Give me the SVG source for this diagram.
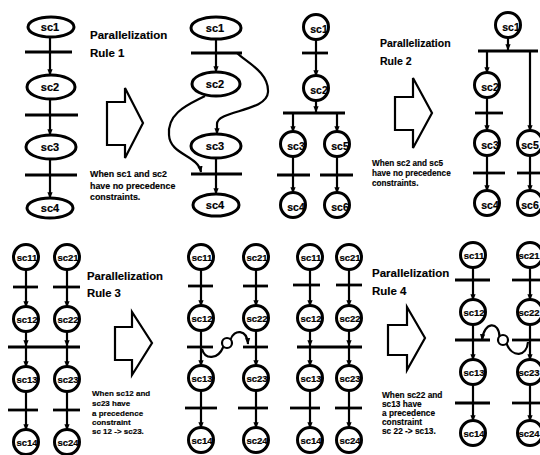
<svg xmlns="http://www.w3.org/2000/svg" width="540" height="455" viewBox="0 0 540 455">
  <style>
    .n { fill: #fff; stroke: #000; stroke-width: 3; }
    .lb { font-family: "Liberation Sans", Arial, sans-serif; font-weight: bold; text-anchor: middle; fill: #000; stroke: #000; stroke-width: 0.2; }
    .e { font-size: 11px; }
    .c { font-size: 9.5px; }
    .c2 { font-size: 10.5px; }
    .bar { stroke: #000; stroke-width: 2.8; }
    .ln { stroke: #000; stroke-width: 2.2; fill: none; marker-end: url(#ah); }
    .ln0 { stroke: #000; stroke-width: 2.2; fill: none; }
    .blk { fill: #fff; stroke: #000; stroke-width: 2.2; stroke-linejoin: miter; }
    .tt { font-family: "Liberation Sans", Arial, sans-serif; font-weight: bold; fill: #000; stroke: #000; stroke-width: 0.15; }
  </style>
  <defs>
    <marker id="ah" viewBox="0 0 10 10" refX="9" refY="5" markerWidth="6.5" markerHeight="6.5" markerUnits="userSpaceOnUse" orient="auto">
      <path d="M0,1 L10,5 L0,9 z" fill="#000"/>
    </marker>
  </defs>

  <!-- transition bars -->
  <g id="bars">
    <!-- rule 1, before -->
    <line class="bar" x1="25" y1="52" x2="72" y2="52"/>
    <line class="bar" x1="25" y1="115" x2="78" y2="115"/>
    <line class="bar" x1="25" y1="175" x2="77" y2="175"/>
    <!-- rule 1, after -->
    <line class="bar" x1="191" y1="53" x2="242" y2="53"/>
    <line class="bar" x1="191" y1="174" x2="242" y2="174"/>
    <!-- rule 2, before -->
    <line class="bar" x1="302" y1="53" x2="328" y2="53"/>
    <line class="bar" x1="283" y1="113" x2="345" y2="113"/>
    <line class="bar" x1="277" y1="175" x2="310" y2="175"/>
    <line class="bar" x1="320" y1="175" x2="353" y2="175"/>
    <!-- rule 2, after -->
    <line class="bar" x1="478" y1="51" x2="538" y2="51"/>
    <line class="bar" x1="475" y1="113" x2="503" y2="113"/>
    <line class="bar" x1="473" y1="173" x2="505" y2="173"/>
    <line class="bar" x1="517" y1="173" x2="540" y2="173"/>
    <!-- rule 3, before -->
    <line class="bar" x1="13" y1="287" x2="38" y2="287"/>
    <line class="bar" x1="53" y1="287" x2="80" y2="287"/>
    <line class="bar" x1="8" y1="347" x2="80" y2="347"/>
    <line class="bar" x1="8" y1="410" x2="38" y2="410"/>
    <line class="bar" x1="53" y1="410" x2="80" y2="410"/>
    <!-- rule 3, after -->
    <line class="bar" x1="188" y1="286" x2="213" y2="286"/>
    <line class="bar" x1="243" y1="286" x2="268" y2="286"/>
    <line class="bar" x1="187" y1="347" x2="213" y2="347"/>
    <line class="bar" x1="243" y1="347" x2="268" y2="347"/>
    <line class="bar" x1="185" y1="408" x2="217" y2="408"/>
    <line class="bar" x1="238" y1="408" x2="268" y2="408"/>
    <!-- rule 4, before -->
    <line class="bar" x1="293" y1="285" x2="320" y2="285"/>
    <line class="bar" x1="336" y1="285" x2="362" y2="285"/>
    <line class="bar" x1="297" y1="347" x2="362" y2="347"/>
    <line class="bar" x1="290" y1="408" x2="320" y2="408"/>
    <line class="bar" x1="335" y1="408" x2="362" y2="408"/>
    <!-- rule 4, after -->
    <line class="bar" x1="455" y1="280" x2="490" y2="280"/>
    <line class="bar" x1="512" y1="280" x2="540" y2="280"/>
    <line class="bar" x1="455" y1="340" x2="490" y2="340"/>
    <line class="bar" x1="512" y1="340" x2="540" y2="340"/>
    <line class="bar" x1="455" y1="403" x2="490" y2="403"/>
    <line class="bar" x1="512" y1="403" x2="540" y2="403"/>
  </g>

  <!-- connectors -->
  <g id="connectors">
    <!-- rule 1, before -->
    <line class="ln" x1="50" y1="37" x2="50" y2="75"/>
    <line class="ln" x1="50" y1="99" x2="50" y2="135"/>
    <line class="ln" x1="50" y1="159" x2="50" y2="198"/>
    <!-- rule 1, after -->
    <line class="ln" x1="216" y1="39" x2="216" y2="72"/>
    <path class="ln" d="M237,53 C246,62 269,72 268,92 C267,112 217,110 217,124 L217,134"/>
    <path class="ln" d="M205,96 C190,104 167,112 169,135 C170,155 198,155 201,172"/>
    <line class="ln" x1="216" y1="158" x2="216" y2="194"/>
    <!-- rule 2, before -->
    <line class="ln" x1="316" y1="39" x2="316" y2="76"/>
    <line class="ln" x1="316" y1="100" x2="316" y2="112"/>
    <line class="ln" x1="293" y1="114" x2="293" y2="132"/>
    <line class="ln" x1="337" y1="114" x2="337" y2="132"/>
    <line class="ln" x1="293" y1="156" x2="293" y2="193"/>
    <line class="ln" x1="337" y1="156" x2="337" y2="193"/>
    <!-- rule 2, after -->
    <line class="ln" x1="508" y1="37" x2="508" y2="50"/>
    <line class="ln" x1="487" y1="52" x2="487" y2="73"/>
    <line class="ln" x1="487" y1="97" x2="487" y2="131"/>
    <line class="ln" x1="487" y1="155" x2="487" y2="191"/>
    <line class="ln" x1="530" y1="52" x2="530" y2="131"/>
    <line class="ln" x1="530" y1="155" x2="530" y2="191"/>
    <!-- rule 3, before -->
    <line class="ln" x1="26" y1="269" x2="26" y2="307"/>
    <line class="ln" x1="67" y1="269" x2="67" y2="307"/>
    <line class="ln" x1="26" y1="331" x2="26" y2="346"/>
    <line class="ln" x1="67" y1="331" x2="67" y2="346"/>
    <line class="ln" x1="26" y1="348" x2="26" y2="367"/>
    <line class="ln" x1="67" y1="348" x2="67" y2="367"/>
    <line class="ln" x1="26" y1="391" x2="26" y2="430"/>
    <line class="ln" x1="67" y1="391" x2="67" y2="430"/>
    <!-- rule 3, after -->
    <line class="ln" x1="201" y1="269" x2="201" y2="306"/>
    <line class="ln" x1="256" y1="269" x2="256" y2="306"/>
    <line class="ln" x1="201" y1="330" x2="201" y2="366"/>
    <line class="ln" x1="256" y1="330" x2="256" y2="366"/>
    <line class="ln" x1="201" y1="390" x2="201" y2="428"/>
    <line class="ln" x1="256" y1="390" x2="256" y2="428"/>
    <path class="ln0" d="M202,349 C205,360 218,360 223.5,346.5"/>
    <circle class="ln0" cx="227" cy="343" r="5"/>
    <path class="ln" d="M230.5,339.5 C234,329 247,329 248,344"/>
    <!-- rule 4, before -->
    <line class="ln" x1="310" y1="269" x2="310" y2="306"/>
    <line class="ln" x1="349" y1="269" x2="349" y2="306"/>
    <line class="ln" x1="310" y1="330" x2="310" y2="346"/>
    <line class="ln" x1="349" y1="330" x2="349" y2="346"/>
    <line class="ln" x1="310" y1="348" x2="310" y2="366"/>
    <line class="ln" x1="349" y1="348" x2="349" y2="366"/>
    <line class="ln" x1="310" y1="390" x2="310" y2="428"/>
    <line class="ln" x1="349" y1="390" x2="349" y2="428"/>
    <!-- rule 4, after -->
    <line class="ln" x1="473" y1="267" x2="473" y2="300"/>
    <line class="ln" x1="530" y1="267" x2="530" y2="300"/>
    <line class="ln" x1="473" y1="324" x2="473" y2="360"/>
    <line class="ln" x1="530" y1="324" x2="530" y2="360"/>
    <line class="ln" x1="473" y1="384" x2="473" y2="421"/>
    <line class="ln" x1="530" y1="384" x2="530" y2="421"/>
    <path class="ln0" d="M528,342 C527,357 512,358 506.5,343.5"/>
    <circle class="ln0" cx="503" cy="340" r="5"/>
    <path class="ln" d="M499.5,336.5 C499,321 484,321 482,340"/>
  </g>

  <!-- rule 1, before: sequential states -->
  <g id="r1a-sc1"><ellipse class="n" cx="51" cy="27" rx="23" ry="10"/><text class="lb e" x="50" y="31">sc1</text></g>
  <g id="r1a-sc2"><ellipse class="n" cx="51" cy="87" rx="24" ry="12"/><text class="lb e" x="50" y="91">sc2</text></g>
  <g id="r1a-sc3"><ellipse class="n" cx="51" cy="147" rx="25" ry="12"/><text class="lb e" x="50" y="151">sc3</text></g>
  <g id="r1a-sc4"><ellipse class="n" cx="50" cy="208" rx="23" ry="10"/><text class="lb e" x="50" y="212">sc4</text></g>

  <!-- rule 1, after -->
  <g id="r1b-sc1"><ellipse class="n" cx="216" cy="28" rx="25" ry="11"/><text class="lb e" x="215" y="32">sc1</text></g>
  <g id="r1b-sc2"><ellipse class="n" cx="216" cy="84" rx="24" ry="12"/><text class="lb e" x="215" y="88">sc2</text></g>
  <g id="r1b-sc3"><ellipse class="n" cx="216" cy="146" rx="25" ry="12"/><text class="lb e" x="215" y="150">sc3</text></g>
  <g id="r1b-sc4"><ellipse class="n" cx="216" cy="205" rx="23" ry="11"/><text class="lb e" x="215" y="209">sc4</text></g>

  <!-- rule 2, before -->
  <g id="r2a-sc1"><circle class="n" cx="316" cy="27" r="12.5"/><text class="lb c2" x="319" y="33">sc1</text></g>
  <g id="r2a-sc2"><circle class="n" cx="316" cy="88" r="12.5"/><text class="lb c2" x="319" y="94">sc2</text></g>
  <g id="r2a-sc3"><circle class="n" cx="293" cy="144" r="12.5"/><text class="lb c2" x="296" y="150">sc3</text></g>
  <g id="r2a-sc5"><circle class="n" cx="337" cy="144" r="12.5"/><text class="lb c2" x="340" y="150">sc5</text></g>
  <g id="r2a-sc4"><circle class="n" cx="293" cy="205" r="12.5"/><text class="lb c2" x="296" y="211">sc4</text></g>
  <g id="r2a-sc6"><circle class="n" cx="337" cy="205" r="12.5"/><text class="lb c2" x="340" y="211">sc6</text></g>

  <!-- rule 2, after -->
  <g id="r2b-sc1"><circle class="n" cx="508" cy="25" r="12.5"/><text class="lb c2" x="511" y="31">sc1</text></g>
  <g id="r2b-sc2"><circle class="n" cx="487" cy="85" r="12.5"/><text class="lb c2" x="490" y="91">sc2</text></g>
  <g id="r2b-sc3"><circle class="n" cx="487" cy="143" r="12.5"/><text class="lb c2" x="490" y="149">sc3</text></g>
  <g id="r2b-sc4"><circle class="n" cx="487" cy="203" r="12.5"/><text class="lb c2" x="490" y="209">sc4</text></g>
  <g id="r2b-sc5"><circle class="n" cx="530" cy="143" r="12.5"/><text class="lb c2" x="530" y="149">sc5</text></g>
  <g id="r2b-sc6"><circle class="n" cx="530" cy="203" r="12.5"/><text class="lb c2" x="530" y="209">sc6</text></g>

  <!-- rule 3, before -->
  <g id="r3a-sc11"><circle class="n" cx="26" cy="257" r="12.5"/><text class="lb c" x="27" y="261">sc11</text></g>
  <g id="r3a-sc21"><circle class="n" cx="67" cy="257" r="12.5"/><text class="lb c" x="68" y="261">sc21</text></g>
  <g id="r3a-sc12"><circle class="n" cx="26" cy="319" r="12.5"/><text class="lb c" x="27" y="323">sc12</text></g>
  <g id="r3a-sc22"><circle class="n" cx="67" cy="319" r="12.5"/><text class="lb c" x="68" y="323">sc22</text></g>
  <g id="r3a-sc13"><circle class="n" cx="26" cy="379" r="12.5"/><text class="lb c" x="27" y="383">sc13</text></g>
  <g id="r3a-sc23"><circle class="n" cx="67" cy="379" r="12.5"/><text class="lb c" x="68" y="383">sc23</text></g>
  <g id="r3a-sc14"><circle class="n" cx="26" cy="442" r="12.5"/><text class="lb c" x="27" y="446">sc14</text></g>
  <g id="r3a-sc24"><circle class="n" cx="67" cy="442" r="12.5"/><text class="lb c" x="68" y="446">sc24</text></g>

  <!-- rule 3, after -->
  <g id="r3b-sc11"><circle class="n" cx="201" cy="257" r="12.5"/><text class="lb c" x="202" y="261">sc11</text></g>
  <g id="r3b-sc21"><circle class="n" cx="256" cy="257" r="12.5"/><text class="lb c" x="257" y="261">sc21</text></g>
  <g id="r3b-sc12"><circle class="n" cx="201" cy="318" r="12.5"/><text class="lb c" x="202" y="322">sc12</text></g>
  <g id="r3b-sc22"><circle class="n" cx="256" cy="318" r="12.5"/><text class="lb c" x="257" y="322">sc22</text></g>
  <g id="r3b-sc13"><circle class="n" cx="201" cy="378" r="12.5"/><text class="lb c" x="202" y="382">sc13</text></g>
  <g id="r3b-sc23"><circle class="n" cx="256" cy="378" r="12.5"/><text class="lb c" x="257" y="382">sc23</text></g>
  <g id="r3b-sc14"><circle class="n" cx="201" cy="440" r="12.5"/><text class="lb c" x="202" y="444">sc14</text></g>
  <g id="r3b-sc24"><circle class="n" cx="256" cy="440" r="12.5"/><text class="lb c" x="257" y="444">sc24</text></g>

  <!-- rule 4, before -->
  <g id="r4a-sc11"><circle class="n" cx="310" cy="257" r="12.5"/><text class="lb c" x="311" y="261">sc11</text></g>
  <g id="r4a-sc21"><circle class="n" cx="349" cy="257" r="12.5"/><text class="lb c" x="350" y="261">sc21</text></g>
  <g id="r4a-sc12"><circle class="n" cx="310" cy="318" r="12.5"/><text class="lb c" x="311" y="322">sc12</text></g>
  <g id="r4a-sc22"><circle class="n" cx="349" cy="318" r="12.5"/><text class="lb c" x="350" y="322">sc22</text></g>
  <g id="r4a-sc13"><circle class="n" cx="310" cy="378" r="12.5"/><text class="lb c" x="311" y="382">sc13</text></g>
  <g id="r4a-sc23"><circle class="n" cx="349" cy="378" r="12.5"/><text class="lb c" x="350" y="382">sc23</text></g>
  <g id="r4a-sc14"><circle class="n" cx="310" cy="440" r="12.5"/><text class="lb c" x="311" y="444">sc14</text></g>
  <g id="r4a-sc24"><circle class="n" cx="349" cy="440" r="12.5"/><text class="lb c" x="350" y="444">sc24</text></g>

  <!-- rule 4, after -->
  <g id="r4b-sc11"><circle class="n" cx="473" cy="255" r="12.5"/><text class="lb c" x="474" y="259">sc11</text></g>
  <g id="r4b-sc21"><circle class="n" cx="530" cy="255" r="12.5"/><text class="lb c" x="529" y="259">sc21</text></g>
  <g id="r4b-sc12"><circle class="n" cx="473" cy="312" r="12.5"/><text class="lb c" x="474" y="316">sc12</text></g>
  <g id="r4b-sc22"><circle class="n" cx="530" cy="312" r="12.5"/><text class="lb c" x="529" y="316">sc22</text></g>
  <g id="r4b-sc13"><circle class="n" cx="473" cy="372" r="12.5"/><text class="lb c" x="474" y="376">sc13</text></g>
  <g id="r4b-sc23"><circle class="n" cx="530" cy="372" r="12.5"/><text class="lb c" x="529" y="376">sc23</text></g>
  <g id="r4b-sc14"><circle class="n" cx="473" cy="433" r="12.5"/><text class="lb c" x="474" y="437">sc14</text></g>
  <g id="r4b-sc24"><circle class="n" cx="530" cy="433" r="12.5"/><text class="lb c" x="529" y="437">sc24</text></g>

  <!-- block arrows between before/after -->
  <g id="arrows">
    <path class="blk" d="M107,102 H125 V88 L143,123 L125,158 V145 H107 Z"/>
    <path class="blk" d="M395,97 H413 V78 L432,113 L413,148 V130 H395 Z"/>
    <path class="blk" d="M115,327 H132 V312 L152,343 L132,375 V360 H115 Z"/>
    <path class="blk" d="M388,325 H407 V307 L425,338 L407,370 V355 H388 Z"/>
  </g>

  <!-- rule titles and conditions -->
  <g id="rule1-text" class="tt">
    <text x="90" y="39" font-size="11.5">Parallelization</text>
    <text x="90" y="57" font-size="11.5">Rule 1</text>
    <text font-size="8.9">
      <tspan x="90" y="177">When sc1 and sc2</tspan>
      <tspan x="90" y="189">have no precedence</tspan>
      <tspan x="90" y="200">constraints.</tspan>
    </text>
  </g>
  <g id="rule2-text" class="tt">
    <text x="380" y="47" font-size="10.5">Parallelization</text>
    <text x="380" y="65" font-size="10.5">Rule 2</text>
    <text font-size="8.2">
      <tspan x="372" y="166">When sc2 and sc5</tspan>
      <tspan x="372" y="176">have no precedence</tspan>
      <tspan x="372" y="186">constraints.</tspan>
    </text>
  </g>
  <g id="rule3-text" class="tt">
    <text x="87" y="280" font-size="11.3">Parallelization</text>
    <text x="87" y="297" font-size="11.3">Rule 3</text>
    <text font-size="8">
      <tspan x="92" y="396">When sc12 and</tspan>
      <tspan x="92" y="406">sc23 have</tspan>
      <tspan x="92" y="416">a precedence</tspan>
      <tspan x="92" y="425">constraint</tspan>
      <tspan x="92" y="434">sc 12 -&gt; sc23.</tspan>
    </text>
  </g>
  <g id="rule4-text" class="tt">
    <text x="372" y="277" font-size="11.5">Parallelization</text>
    <text x="372" y="295" font-size="11.5">Rule 4</text>
    <text font-size="8.3">
      <tspan x="382" y="398">When sc22 and</tspan>
      <tspan x="382" y="407">sc13 have</tspan>
      <tspan x="382" y="416">a precedence</tspan>
      <tspan x="382" y="425">constraint</tspan>
      <tspan x="382" y="434">sc 22 -&gt; sc13.</tspan>
    </text>
  </g>
</svg>
